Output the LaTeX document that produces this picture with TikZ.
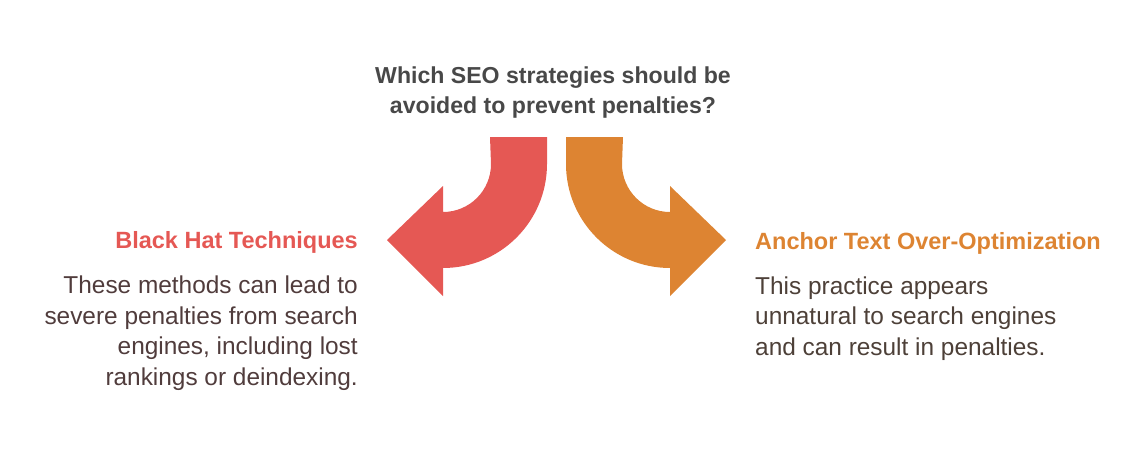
\documentclass[tikz,border=0pt]{standalone}
\usepackage{fontspec}
\setmainfont{Liberation Sans}
\definecolor{redA}{HTML}{E55854}
\definecolor{orangeA}{HTML}{DD8432}
\definecolor{titleC}{HTML}{484848}
\definecolor{bodyL}{HTML}{503C3C}
\definecolor{bodyR}{HTML}{4D4038}
\begin{document}
\begin{tikzpicture}[x=1pt,y=1pt,
  qtext/.style={font=\fontsize{23.1}{30}\selectfont\bfseries, text=titleC, align=center, anchor=base, inner sep=0pt},
  htext/.style={font=\fontsize{23.5}{30}\selectfont\bfseries, inner sep=0pt},
  btext/.style={font=\fontsize{24.4}{30.5}\selectfont, inner sep=0pt}]
\useasboundingbox (0,0) rectangle (1143,-453);
% red arrow
\fill[redA] (490,-137) -- (547,-137) -- (547,-164)
  arc[start angle=0,end angle=-90,radius=104] -- (443,-296) -- (387,-240) -- (443,-186) -- (443,-212)
  arc[start angle=-90,end angle=0,radius=48] -- cycle;
% orange arrow
\fill[orangeA] (623,-137) -- (566,-137) -- (566,-164)
  arc[start angle=180,end angle=270,radius=104] -- (670,-296) -- (726,-240) -- (670,-186) -- (670,-212)
  arc[start angle=270,end angle=180,radius=48] -- cycle;
\node[qtext] (q) at (553,-113) {Which SEO strategies should be\\avoided to prevent penalties?};
\node[htext, text=redA, anchor=base east] (lh) at (358,-248) {Black Hat Techniques};
\node[btext, text=bodyL, align=right, anchor=base east] (lb) at (358,-385) {These methods can lead to\\severe penalties from search\\engines, including lost\\rankings or deindexing.};
\node[htext, text=orangeA, anchor=base west] (rh) at (755,-249) {Anchor Text Over-Optimization};
\node[btext, text=bodyR, align=left, anchor=base west] (rb) at (755,-355) {This practice appears\\unnatural to search engines\\and can result in penalties.};
\end{tikzpicture}
\end{document}
